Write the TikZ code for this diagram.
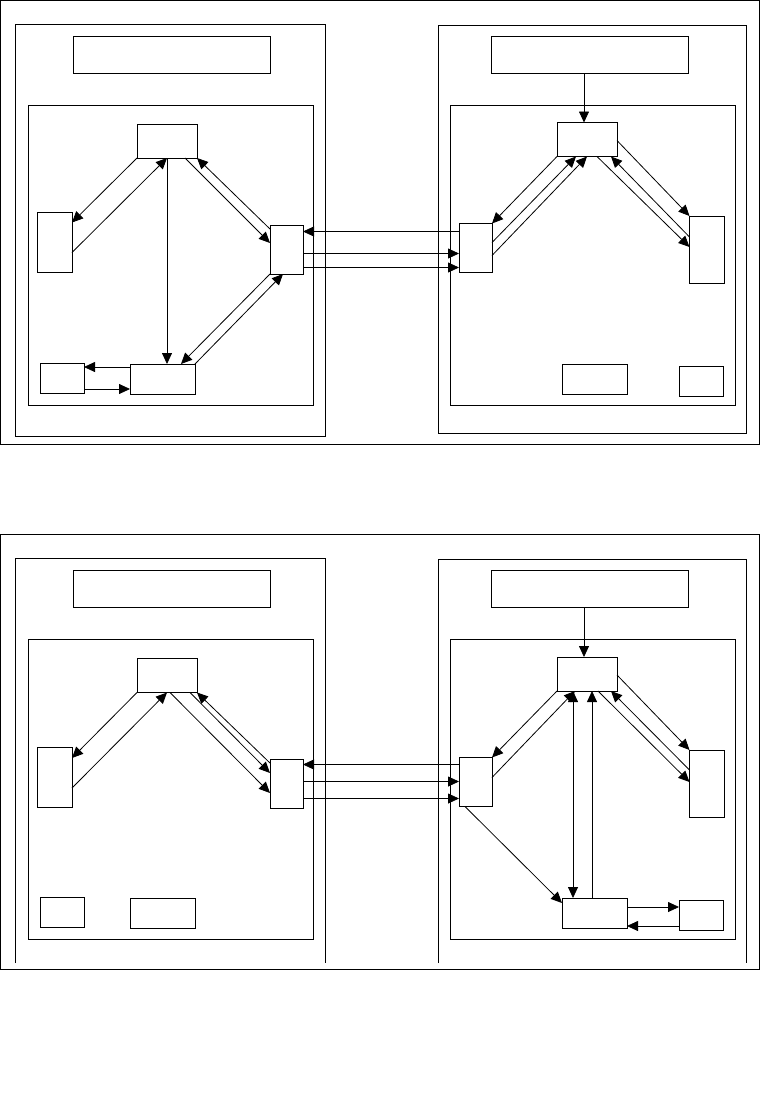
\documentclass[tikz,border=0pt]{standalone}
\usepackage{tikz}
\usetikzlibrary{arrows.meta,calc}
\tikzset{
  >={Triangle[length=5.5pt,width=5pt]},
  panel/.style={draw, line width=0.5pt},
  blk/.style={draw, line width=0.5pt, inner sep=0pt, outer sep=0pt},
  titlebox/.style={blk, minimum width=98.5pt, minimum height=18.5pt},
  hub/.style={blk, minimum width=30pt, minimum height=17pt},
  port/.style={blk, minimum width=16.5pt, minimum height=24.5pt},
  tall/.style={blk, minimum width=17.5pt, minimum height=30pt},
  wide/.style={blk, minimum width=32.5pt, minimum height=15pt},
  small/.style={blk, minimum width=22pt, minimum height=15pt},
  conn/.style={->, line width=0.4pt},
  dconn/.style={<->, line width=0.4pt},
}
\begin{document}
\begin{tikzpicture}[x=0.5pt, y=-0.5pt]
  \useasboundingbox (0,0) rectangle (760,1114);
  % upper diagram
  \draw[panel] (0.5,0.5) rectangle (759,444);
  \draw[panel] (15,24) rectangle (325,436);
  \draw[panel] (438,25) rectangle (746,433);
  \draw[panel] (28,105) rectangle (313,405);
  \draw[panel] (450,105) rectangle (735,405);
  \node[titlebox] (tl1) at (171.5,54.5) {};
  \node[titlebox] (tr1) at (590,54.5) {};
  \node[hub] (a1) at (167,141) {};
  \node[tall] (b1) at (54.5,242.5) {};
  \node[port] (c1) at (286.5,249.5) {};
  \node[wide] (d1) at (162.5,379) {};
  \node[small] (e1) at (62,378) {};
  \node[hub] (f1) at (587,139.5) {};
  \node[port] (g1) at (475.5,248) {};
  \node[tall, minimum height=33.5pt] (h1) at (707,249.5) {};
  \node[wide] (i1) at (594.5,379) {};
  \node[small] (j1) at (701,381) {};
  \draw[conn] (a1.south west) -- ($(b1.north east)+(0,10)$);
  \draw[conn] ($(b1.north east)+(0,40)$) -- (a1.south);
  \draw[conn] (a1.south) -- (a1.south |- d1.north);
  \draw[conn] ($(a1.south east)+(-12,0)$) -- ($(c1.north west)+(0,18)$);
  \draw[conn] ($(c1.north west)+(0,4)$) -- (a1.south east);
  \draw[conn] (c1.south west) -- ($(d1.north west)+(51,0)$);
  \draw[conn] (d1.north east) -- ($(c1.south west)+(13,0)$);
  \coordinate (de1) at ($(d1.north west)+(0,3)$);
  \coordinate (ed1) at ($(e1.south east)+(0,-4)$);
  \draw[conn] (de1) -- (de1 -| e1.east);
  \draw[conn] (ed1) -- (ed1 -| d1.west);
  \coordinate (gc1) at ($(g1.north west)+(0,8)$);
  \coordinate (cg1) at ($(g1.north west)+(0,30)$);
  \coordinate (cg2) at ($(g1.north west)+(0,44)$);
  \draw[conn] (gc1) -- (gc1 -| c1.east);
  \draw[conn] (cg1 -| c1.east) -- (cg1);
  \draw[conn] (cg2 -| c1.east) -- (cg2);
  \coordinate (tf1) at ($(f1.north)+(-3,0)$);
  \draw[conn] (tf1 |- tr1.south) -- (tf1);
  \draw[conn] (f1.south west) -- (g1.north east);
  \draw[conn] ($(g1.north east)+(0,19)$) -- ($(f1.south west)+(19,0)$);
  \draw[conn] ($(g1.north east)+(0,32)$) -- (f1.south);
  \draw[conn] ($(f1.north east)+(0,18)$) -- (h1.north west);
  \draw[conn] ($(f1.south)+(10,0)$) -- ($(h1.north west)+(0,31)$);
  \draw[conn] ($(h1.north west)+(0,21)$) -- ($(f1.south)+(24,0)$);
  % lower diagram
  \begin{scope}[shift={(0,534)}]
    \draw[panel] (0.5,0) rectangle (759,435);
    \draw[panel] (15,429) -- (15,24) -- (325,24) -- (325,429);
    \draw[panel] (438,429) -- (438,25) -- (746,25) -- (746,429);
    \draw[panel] (28,105) rectangle (313,405);
    \draw[panel] (450,105) rectangle (735,405);
    \node[titlebox] (tl2) at (171.5,54.5) {};
    \node[titlebox] (tr2) at (590,54.5) {};
    \node[hub] (a2) at (167,141.5) {};
    \node[tall] (b2) at (54.5,243) {};
    \node[port] (c2) at (286.5,249.5) {};
    \node[wide] (d2) at (162.5,379) {};
    \node[small] (e2) at (62,378) {};
    \node[hub] (f2) at (587,140) {};
    \node[port] (g2) at (475.5,248) {};
    \node[tall, minimum height=33.5pt] (h2) at (707,249.5) {};
    \node[wide] (i2) at (594.5,379) {};
    \node[small] (j2) at (701,381) {};
    \draw[conn] (a2.south west) -- ($(b2.north east)+(0,11)$);
    \draw[conn] ($(b2.north east)+(0,41)$) -- (a2.south);
    \draw[conn] ($(a2.south)+(3,0)$) -- ($(c2.north west)+(0,34)$);
    \draw[conn] ($(a2.south east)+(-7,0)$) -- ($(c2.north west)+(0,14)$);
    \draw[conn] ($(c2.north west)+(0,4)$) -- (a2.south east);
    \coordinate (gc3) at ($(g2.north west)+(0,7)$);
    \coordinate (cg3) at ($(g2.north west)+(0,24)$);
    \coordinate (cg4) at ($(g2.north west)+(0,41)$);
    \draw[conn] (gc3) -- (gc3 -| c2.east);
    \draw[conn] (cg3 -| c2.east) -- (cg3);
    \draw[conn] (cg4 -| c2.east) -- (cg4);
    \coordinate (tf2) at ($(f2.north)+(-3,0)$);
    \draw[conn] (tf2 |- tr2.south) -- (tf2);
    \draw[conn] (f2.south west) -- (g2.north east);
    \draw[conn] ($(g2.north east)+(0,20)$) -- ($(f2.south west)+(18,0)$);
    \coordinate (fi2) at ($(f2.south west)+(16,0)$);
    \coordinate (if2) at ($(i2.north west)+(30,0)$);
    \draw[dconn] (fi2) -- (fi2 |- i2.north);
    \draw[conn] (if2) -- (if2 |- f2.south);
    \draw[conn] ($(g2.south west)+(6,0)$) -- ($(i2.north west)+(0,5)$);
    \draw[conn] ($(f2.north east)+(0,18)$) -- (h2.north west);
    \draw[conn] ($(f2.south)+(11,0)$) -- ($(h2.north west)+(0,32)$);
    \draw[conn] ($(h2.north west)+(0,20)$) -- ($(f2.south)+(24,0)$);
    \coordinate (ij2) at ($(i2.north east)+(0,9)$);
    \coordinate (ji2) at ($(j2.south west)+(0,-4)$);
    \draw[conn] (ij2) -- (ij2 -| j2.west);
    \draw[conn] (ji2) -- (ji2 -| i2.east);
  \end{scope}
\end{tikzpicture}
\end{document}
